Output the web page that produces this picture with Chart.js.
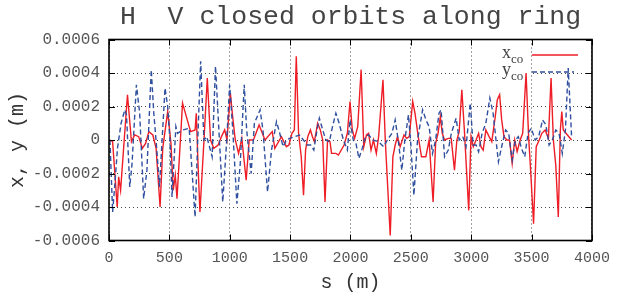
<!DOCTYPE html>
<html>
<head>
<meta charset="utf-8">
<script src="https://cdn.jsdelivr.net/npm/chart.js@4/dist/chart.umd.min.js"></script>
<style>
  html, body { margin: 0; padding: 0; background: #fff; }
  #c { display: block; }
</style>
</head>
<body>
<canvas id="c" width="619" height="298"></canvas>
<script>
// s positions (m) and closed orbit values (m)
const S_X = [8,30,68,80,96,153,186,213,246,276,303,330,363,390,423,445,486,513,532,549,563,609,664,677,713,723,737,753,786,814,841,868,904,931,958,977,1005,1024,1046,1073,1100,1136,1161,1196,1243,1292,1352,1373,1428,1469,1490,1515,1535,1551,1570,1592,1611,1628,1646,1668,1685,1701,1728,1750,1770,1789,1810,1830,1843,1879,1900,1947,1974,1996,2015,2034,2060,2088,2110,2132,2150,2170,2190,2214,2233,2269,2288,2329,2351,2370,2389,2411,2443,2465,2487,2515,2534,2561,2588,2624,2651,2684,2705,2725,2744,2760,2779,2810,2834,2861,2881,2900,2922,2943,2979,2998,3017,3040,3061,3080,3099,3121,3148,3170,3197,3216,3235,3252,3271,3295,3317,3339,3360,3380,3405,3426,3454,3475,3490,3516,3538,3563,3585,3612,3639,3661,3680,3700,3721,3738,3750,3762,3831];
const X_CO = [0,-0.00001,-0.0004,-0.00022,-0.0003,0.00027,-0.00001,0.00003,0.00002,-0.00005,-0.00002,0.00005,0.00003,-0.00005,-0.0004,-0.00005,0.00017,-0.00002,-0.0003,-0.00021,-0.00035,0.00022,0.00008,0.00005,0.00006,0.00016,-0.00014,-0.00043,-0.00001,0.00037,0,-0.00005,-0.00003,0.00002,0.00006,0,0.00028,0.00014,0,-0.00008,0.00001,-0.00024,0,0,0.00009,0,0.00005,-0.00005,0.00002,-0.00004,-0.00003,0.00004,0.00006,0.0005,0.00004,-0.0001,-0.00033,-0.00006,0.00002,0.00006,0.00002,-0.00001,0.0001,0.00006,0,-0.00037,0,-0.00001,-0.00008,-0.00008,-0.00009,-0.00003,0.00004,0.00023,0.00006,0.00001,0.00008,0.00042,-0.00004,0.00003,0.00004,-0.00006,0,-0.00008,0.00002,0.00036,0,-0.00057,-0.0001,-0.00003,0.00002,-0.00004,0.00003,0.00001,0.00002,0.00023,0.00016,0.00002,-0.0001,-0.0001,0,-0.00037,-0.00002,0.00004,0.00014,0.00004,0,0.00001,0.00001,-0.00018,0,0.00005,0.0003,0.00006,-0.00042,0.00002,-0.00004,0,0.00004,-0.00004,-0.00006,0.00006,0.00002,-0.00001,0.00013,0.00024,0.00027,0.00012,0.00002,0,0,-0.00014,0,-0.00007,0,0.00004,0.0004,0.00002,-0.00016,-0.0005,-0.00004,0,0.00004,0.00006,0.00001,0.00037,0,-0.00015,-0.00046,0.00006,0.00017,0.00006,0];

const S_Y = [8,30,49,70,100,131,145,172,191,227,254,287,314,350,371,395,418,464,486,505,522,554,568,610,664,713,735,759,786,810,854,882,910,942,975,999,1025,1059,1087,1120,1140,1177,1204,1251,1275,1313,1346,1387,1414,1442,1470,1496,1537,1578,1610,1641,1670,1696,1723,1742,1770,1796,1825,1851,1879,1906,1941,1974,1996,2023,2045,2070,2097,2124,2150,2185,2233,2274,2305,2343,2370,2395,2425,2450,2480,2500,2525,2555,2597,2625,2651,2679,2705,2733,2750,2765,2779,2810,2835,2875,2900,2930,2957,2992,3015,3040,3061,3090,3121,3154,3181,3205,3225,3255,3285,3310,3339,3365,3390,3416,3443,3470,3497,3530,3558,3591,3618,3645,3672,3700,3727,3754,3780,3803,3831];
const Y_CO = [0,-0.00043,-0.00026,-0.00005,0.0001,0.00018,0.00015,-0.00028,-0.00014,0.00033,0.00016,-0.00035,-0.00018,0.00042,0.00016,-0.00005,-0.00028,0.00031,0.0002,0,-0.00034,0.00008,0.00004,0.00006,0.00007,-0.00046,0,0.00047,0,0.00002,-0.0001,0.00044,0.00006,-0.00037,0,0.00033,0.00006,-0.00038,-0.00014,0.00033,0.00006,-0.0002,0.0001,0.00018,0.00006,-0.00031,-0.00006,0.00011,0.00004,-0.00004,0,0.00001,0.00002,0.00003,0,-0.00003,-0.00003,-0.00006,0.00006,0.00013,0.00006,0,-0.00001,0.00008,0.00016,0.0001,0,-0.00006,0.00012,0,-0.00002,-0.00011,-0.00005,0.00002,0.00003,0,-0.00001,-0.00004,0,0.00004,0.00012,0,-0.00018,0,0.00015,-0.00003,-0.00033,0,0.00018,0.00012,0.00008,-0.00008,0,0.00016,0.00018,0.00004,-0.0001,-0.00006,0.00004,0.00013,0,0.00002,-0.00004,0.00022,-0.00003,-0.00003,-0.00007,0.00004,0.0001,0.00025,0.00016,0,-0.00013,-0.00003,0.00006,0.00004,-0.00012,0,0.00002,-0.00005,-0.0001,0.00004,0.00007,0,0.00002,0.00012,0.00009,-0.00003,0,0.00006,0.00004,-0.00008,0.00006,0.00043,0.00002];

const TITLE = 'H  V closed orbits along ring';
const LEGEND = [['x', 'co'], ['y', 'co']];
const RED = '#ee1d26', BLUE = '#2f4f9f';
const MONO = "'Liberation Mono', 'DejaVu Sans Mono', monospace";

function pts(xs, ys) { return xs.map((s, i) => ({ x: s, y: ys[i] })); }

// gnuplot-like title over the plot, frame, inward ticks and key
const frame = {
  id: 'frame',
  beforeDatasetsDraw(chart) {
    const { ctx, chartArea: a } = chart;
    ctx.save();
    ctx.fillStyle = '#444';
    ctx.font = '26.5px ' + MONO;
    ctx.textAlign = 'center';
    ctx.textBaseline = 'middle';
    ctx.fillText(TITLE, (a.left + a.right) / 2, 17);
    ctx.textAlign = 'left';
    ctx.fillStyle = '#fff';
    ctx.fillRect(499, 44, 31, 38);
    ctx.textBaseline = 'alphabetic';
    ctx.fillStyle = '#444';
    chart.data.datasets.forEach((ds, i) => {
      const y = 56 + i * 17;
      const [main, sub] = LEGEND[i];
      ctx.font = "18px 'Liberation Serif', serif";
      ctx.fillText(main, 502, y + 2);
      const w = ctx.measureText(main).width;
      ctx.font = "13px 'Liberation Serif', serif";
      ctx.fillText(sub, 502 + w, y + 7);
      ctx.strokeStyle = ds.borderColor;
      ctx.lineWidth = 1.4;
      ctx.setLineDash(ds.borderDash || []);
      ctx.beginPath();
      ctx.moveTo(532, y - 1);
      ctx.lineTo(i ? 574 : 578, y - 1);
      ctx.stroke();
    });
    ctx.restore();
  },
  afterDraw(chart) {
    const { ctx, chartArea: a, scales } = chart;
    ctx.save();
    ctx.strokeStyle = '#000';
    ctx.lineWidth = 1;
    ctx.beginPath();
    scales.x.ticks.forEach(t => {
      const px = Math.round(scales.x.getPixelForValue(t.value)) + 0.5;
      ctx.moveTo(px, a.bottom); ctx.lineTo(px, a.bottom - 6);
      ctx.moveTo(px, a.top); ctx.lineTo(px, a.top + 6);
    });
    scales.y.ticks.forEach(t => {
      const py = Math.round(scales.y.getPixelForValue(t.value)) + 0.5;
      ctx.moveTo(a.left, py); ctx.lineTo(a.left + 6, py);
      ctx.moveTo(a.right, py); ctx.lineTo(a.right - 6, py);
    });
    ctx.stroke();
    ctx.lineWidth = 1.6;
    ctx.strokeRect(a.left, a.top, a.right - a.left, a.bottom - a.top);
    ctx.restore();
  }
};

new Chart(document.getElementById('c'), {
  type: 'scatter',
  data: {
    datasets: [
      { label: 'x_co', data: pts(S_X, X_CO), showLine: true, borderColor: RED, borderWidth: 1.4, pointRadius: 0, order: 1 },
      { label: 'y_co', data: pts(S_Y, Y_CO), showLine: true, borderColor: BLUE, borderWidth: 1.4, borderDash: [5, 3], pointRadius: 0, order: 0 }
    ]
  },
  options: {
    responsive: false,
    animation: false,
    devicePixelRatio: 1,
    layout: { padding: { left: 0, right: 21.5, top: 39.5, bottom: 0 } },
    plugins: {
      legend: { display: false },
      tooltip: { enabled: false },
      title: { display: false }
    },
    scales: {
      x: {
        type: 'linear', min: 0, max: 4000,
        afterFit: s => { s.height = 57.5; },
        ticks: { stepSize: 500, color: '#555', padding: 9, maxRotation: 0, font: { family: MONO, size: 15 }, callback: v => String(v) },
        grid: { color: '#444', drawTicks: false, lineWidth: 1 },
        border: { display: false, dash: [1, 3] },
        title: { display: true, text: 's (m)', color: '#333', font: { family: MONO, size: 20 }, padding: { top: 0, bottom: 3 } }
      },
      y: {
        min: -0.0006, max: 0.0006,
        afterFit: s => { s.width = 109; },
        ticks: {
          stepSize: 0.0002, color: '#555', padding: 9, font: { family: MONO, size: 16 },
          callback: v => Math.abs(v) < 1e-10 ? '0' : v.toFixed(4)
        },
        grid: { color: '#444', drawTicks: false, lineWidth: 1 },
        border: { display: false, dash: [1, 3] },
        title: { display: true, text: 'x, y (m)', color: '#333', font: { family: MONO, size: 20 }, padding: { top: 6, bottom: 0 } }
      }
    }
  },
  plugins: [frame]
});
</script>
</body>
</html>
